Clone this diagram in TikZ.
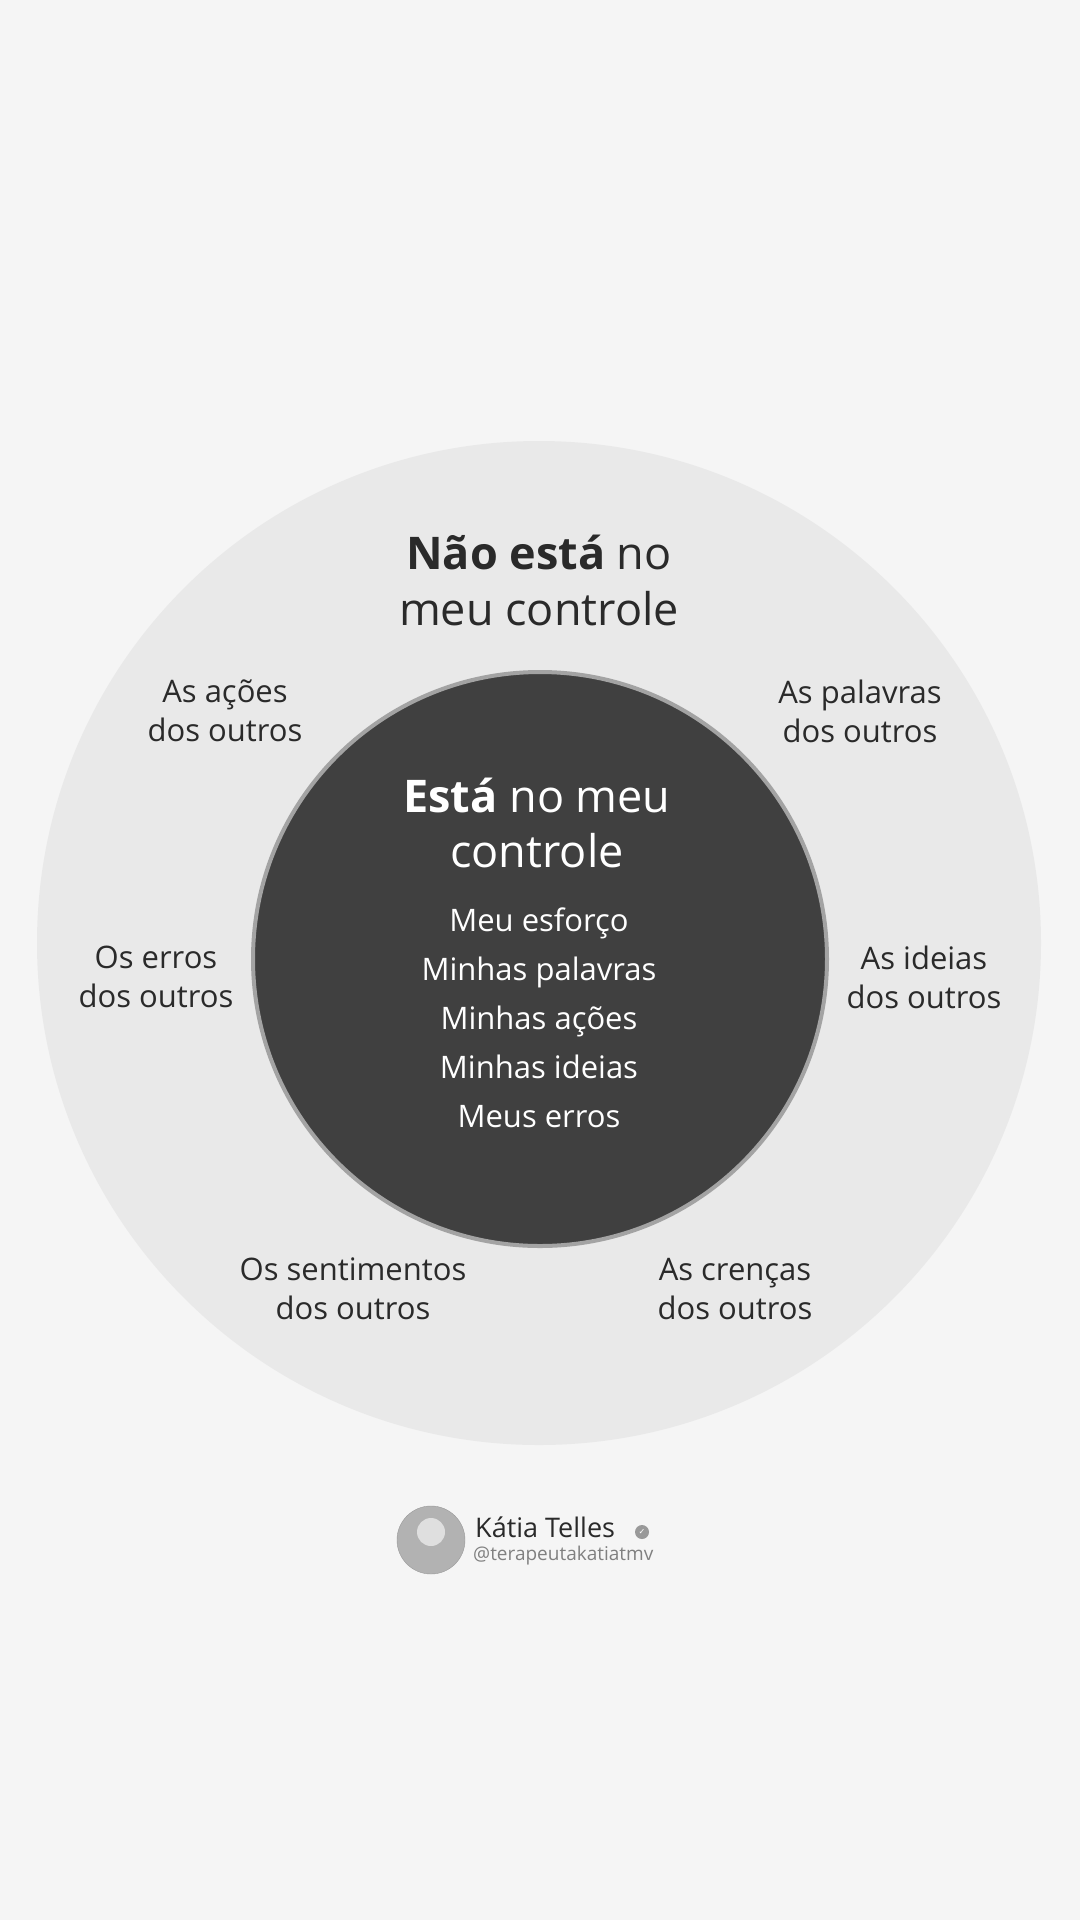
\documentclass[tikz,border=0pt]{standalone}
\usepackage{fontspec}
\setmainfont{Open Sans}
\newfontfamily\dejavu{DejaVu Sans}
\definecolor{bg}{HTML}{F5F5F5}
\definecolor{outer}{HTML}{E9E9E9}
\definecolor{inner}{HTML}{404040}
\definecolor{ring}{HTML}{A3A3A3}
\definecolor{ink}{HTML}{2A2A2A}
\tikzset{
 lbl/.style={align=center,text=ink,font=\fontsize{31}{39}\selectfont,inner sep=0pt},
 ttl/.style={anchor=base,text=ink,font=\fontsize{45}{56}\selectfont,inner sep=0pt},
 itl/.style={anchor=base,text=white,font=\fontsize{45}{56}\selectfont,inner sep=0pt},
 itm/.style={anchor=base,text=white,font=\fontsize{31}{38}\selectfont,inner sep=0pt}
}
\begin{document}
\begin{tikzpicture}[x=1pt,y=-1pt]
\fill[bg] (0,0) rectangle (1080,1920);
\useasboundingbox (0,0) rectangle (1080,1920);
\fill[outer] (539,943) circle (502);
\filldraw[fill=inner,draw=ring,line width=4pt] (540,959) circle (287);
\node[ttl] (t1) at (539,569) {\textbf{Não está} no};
\node[ttl] (t2) at (539,625) {meu controle};
\node[lbl] (a) at (225,711) {As ações\\dos outros};
\node[lbl] (b) at (860,711) {As palavras\\dos outros};
\node[lbl] (c) at (156,977) {Os erros\\dos outros};
\node[lbl] (d) at (924,977) {As ideias\\dos outros};
\node[lbl] (e) at (353,1289) {Os sentimentos\\dos outros};
\node[lbl] (f) at (735,1289) {As crenças\\dos outros};
\node[itl] (i1) at (537,812) {\textbf{Está} no meu};
\node[itl] (i2) at (537,867) {controle};
\node[itm] (m1) at (539,931) {Meu esforço};
\node[itm] (m2) at (539,980) {Minhas palavras};
\node[itm] (m3) at (539,1029) {Minhas ações};
\node[itm] (m4) at (539,1078) {Minhas ideias};
\node[itm] (m5) at (539,1127) {Meus erros};
\filldraw[fill=gray!60,draw=gray!80] (431,1540) circle (34);
\fill[gray!25] (431,1532) circle (14);
\node[anchor=west,text=ink,font=\fontsize{27}{32}\selectfont,inner sep=0pt] (n) at (475,1527) {Kátia Telles};
\fill[gray!80] (642,1532) circle (7);
\node[text=white,font=\dejavu\fontsize{8}{8}\selectfont,inner sep=0pt] (ck) at (642,1532) {✓};
\node[anchor=west,text=gray,font=\fontsize{19}{22}\selectfont,inner sep=0pt] (h) at (473,1556) {@terapeutakatiatmv};
\end{tikzpicture}
\end{document}
